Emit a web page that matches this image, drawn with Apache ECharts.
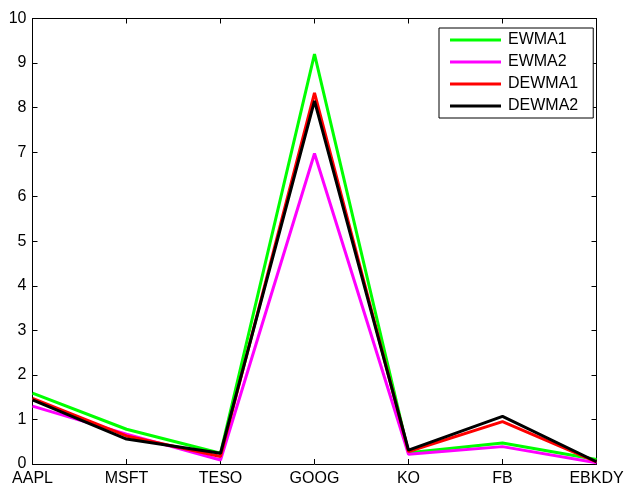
<!DOCTYPE html>
<html><head><meta charset="utf-8">
<script src="https://cdn.jsdelivr.net/npm/echarts@6/dist/echarts.min.js"></script>
<style>html,body{margin:0;padding:0;background:#fff}#c{width:627px;height:487px}</style>
</head><body><div id="c"></div>
<script>
const categories = ['AAPL','MSFT','TESO','GOOG','KO','FB','EBKDY'];
const ewma1  = [1.59, 0.78, 0.24, 9.20, 0.25, 0.47, 0.10];
const ewma2  = [1.30, 0.67, 0.09, 6.97, 0.22, 0.39, 0.03];
const dewma1 = [1.47, 0.63, 0.17, 8.33, 0.28, 0.95, 0.05];
const dewma2 = [1.44, 0.56, 0.24, 8.15, 0.31, 1.07, 0.05];
const yTicks = [0,1,2,3,4,5,6,7,8,9,10];

const font = 'Liberation Sans, Arial, sans-serif';
const chart = echarts.init(document.getElementById('c'), null, {renderer:'canvas'});
const axisLine = {show:true, onZero:false, lineStyle:{color:'#000', width:1}};
const tick = {show:true, inside:true, length:5, lineStyle:{color:'#000'}};
function mk(name, data, color){
  return {name, type:'line', data, symbol:'none', lineStyle:{color, width:3}, itemStyle:{color}, animation:false};
}
chart.setOption({
  animation:false,
  grid:{left:32.5, right:30.5, top:18.5, bottom:23, containLabel:false},
  legend:{
    orient:'vertical', left:439, top:28,
    backgroundColor:'#fff', borderColor:'#000', borderWidth:1,
    padding:[4,15,4,11], itemGap:6, itemWidth:51, itemHeight:3, icon:'rect',
    textStyle:{fontFamily:font, fontSize:16, color:'#000', lineHeight:16, padding:[0,0,0,2]},
    data:['EWMA1','EWMA2','DEWMA1','DEWMA2']
  },
  xAxis:[
    {type:'category', data:categories, boundaryGap:false, position:'bottom',
     axisLine, axisTick:tick, splitLine:{show:false},
     axisLabel:{fontFamily:font, fontSize:16, color:'#000', margin:7, interval:0}},
    {type:'category', data:categories, boundaryGap:false, position:'top',
     axisLine, axisTick:tick, axisLabel:{show:false}, splitLine:{show:false}}
  ],
  yAxis:[
    {type:'value', min:0, max:10, interval:1, position:'left', axisLine, axisTick:tick, splitLine:{show:false},
     axisLabel:{fontFamily:font, fontSize:16, color:'#000', margin:6,
       formatter:v=>yTicks.includes(v)?String(v):''}},
    {type:'value', min:0, max:10, interval:1, position:'right', axisLine, axisTick:tick, splitLine:{show:false},
     axisLabel:{show:false}}
  ],
  series:[
    mk('EWMA1', ewma1, '#00ff00'),
    mk('EWMA2', ewma2, '#ff00ff'),
    mk('DEWMA1', dewma1, '#ff0000'),
    mk('DEWMA2', dewma2, '#000000')
  ]
});
</script></body></html>
